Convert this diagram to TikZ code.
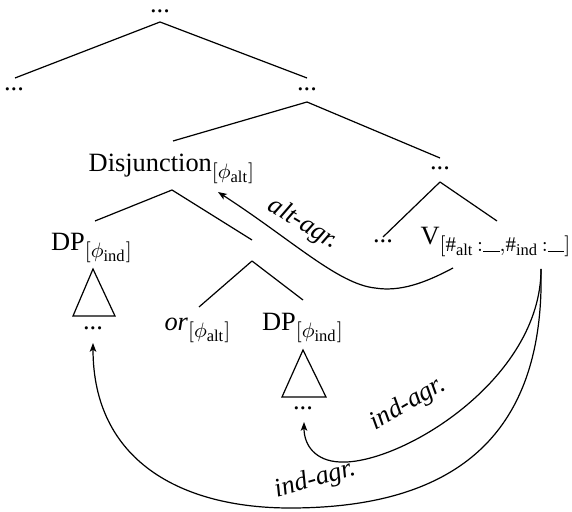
\RequirePackage{fix-cm}
\documentclass[tikz,border=0pt]{standalone}
\usepackage{fontspec}
\setmainfont{Liberation Serif}
\usetikzlibrary{calc,arrows.meta}
\DeclareMathSizes{12}{12}{9.5}{7.5}
\newcommand{\blankslot}{\mbox{\rule{7.5pt}{0.35pt}}}
\begin{document}
\begin{tikzpicture}[x=0.4545pt,y=-0.4545pt,
  lbl/.style={inner sep=0pt, anchor=base, font=\fontsize{12}{14}\selectfont},
  edge/.style={line width=0.55pt},
  agr/.style={line width=0.55pt, -{Stealth[length=4pt,width=3pt,inset=1pt]}},
  agrlbl/.style={inner sep=0pt, font=\fontsize{12}{14}\selectfont\itshape}]
\useasboundingbox (0,0) rectangle (572,512);

% tree labels
\node[lbl] (top) at (160,13) {...};
\node[lbl] (l1) at (14,91) {...};
\node[lbl] (r1) at (307,91) {...};
\node[lbl] (disj) at (172,172) {Disjunction$_{[\phi_{\mathrm{alt}}]}$};
\node[lbl] (r2) at (440,170) {...};
\node[lbl] (dpl) at (92,251) {DP$_{[\phi_{\mathrm{ind}}]}$};
\coordinate (conj) at (252,250);
\node[lbl] (or) at (198,331) {\textit{or}$_{[\phi_{\mathrm{alt}}]}$};
\node[lbl] (dpr) at (303,331) {DP$_{[\phi_{\mathrm{ind}}]}$};
\node[lbl] (vdots) at (383,243) {...};
\node[lbl] (v) at (496,245) {V$_{[\#_{\mathrm{alt}}\,:\blankslot,\#_{\mathrm{ind}}\,:\blankslot]}$};
\node[lbl] (dpldots) at (93,330) {...};
\node[lbl] (dprdots) at (303,410) {...};

% branches
\draw[edge] ($(top.base)+(0,9)$) -- ($(l1.base)+(1,-13)$);
\draw[edge] ($(top.base)+(0,9)$) -- ($(r1.base)+(0,-13)$);
\draw[edge] ($(r1.base)+(0,11)$) -- ($(disj.base)+(1,-31)$);
\draw[edge] ($(r1.base)+(0,11)$) -- ($(r2.base)+(0,-12)$);
\draw[edge] ($(disj.base)+(0,18)$) -- ($(dpl.base)+(3,-30)$);
\draw[edge] ($(disj.base)+(0,18)$) -- ($(conj)+(0,-10)$);
\draw[edge] ($(conj)+(0,11)$) -- ($(or.base)+(1,-24)$);
\draw[edge] ($(conj)+(0,11)$) -- ($(dpr.base)+(0,-31)$);
\draw[edge] ($(r2.base)+(0,12)$) -- ($(vdots.base)+(0,-6)$);
\draw[edge] ($(r2.base)+(0,12)$) -- ($(v.base)+(1,-24)$);

% collapsed subtrees
\draw[edge] ($(dpl.base)+(1,18)$) -- ($(dpl.base)+(-19,65)$) -- ($(dpl.base)+(23,65)$) -- cycle;
\draw[edge] ($(dpr.base)+(0,19)$) -- ($(dpr.base)+(-21,66)$) -- ($(dpr.base)+(23,66)$) -- cycle;

% agreement arrows
\coordinate (vAlt) at ($(v.base)+(-43,23)$);
\coordinate (vInd) at ($(v.base)+(45,24)$);
\coordinate (disjTip) at ($(disj.base)+(46,20)$);
\coordinate (dprTip) at ($(dprdots.base)+(1,12)$);
\coordinate (dplTip) at ($(dpldots.base)+(0,13)$);

\draw[agr] (vAlt) .. controls (425,283) and (400,292) .. (375,288)
  .. controls (338,284) and (292,240) .. (disjTip);
\draw[agr] (vInd) .. controls (541,380) and (400,465) .. (340,462)
  .. controls (315,461) and (304,445) .. (dprTip);
\draw[agr] (vInd) .. controls (545,440) and (450,508) .. (290,508)
  .. controls (180,508) and (93,460) .. (dplTip);

\node[agrlbl, rotate=-31] (altlbl) at (303,224) {alt-agr.};
\node[agrlbl, rotate=30] (indlbl1) at (408,404) {ind-agr.};
\node[agrlbl, rotate=16] (indlbl2) at (315,480) {ind-agr.};
\end{tikzpicture}
\end{document}
